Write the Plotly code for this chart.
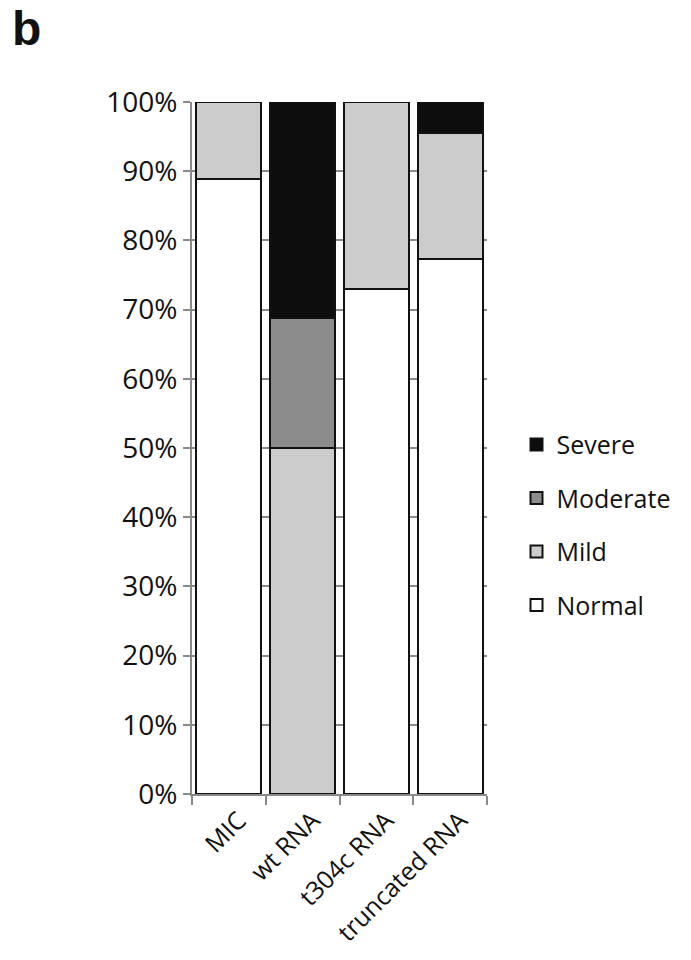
import plotly.graph_objects as go

# Share of embryos in each phenotype class per injection
categories = ["MIC", "wt RNA", "t304c RNA", "truncated RNA"]
normal = [0.889, 0.0, 0.73, 0.773]
mild = [0.111, 0.50, 0.27, 0.182]
moderate = [0.0, 0.1875, 0.0, 0.0]
severe = [0.0, 0.3125, 0.0, 0.045]

# stacked bottom to top; legend lists them top to bottom
series = [
    ("Normal", normal, "#ffffff"),
    ("Mild", mild, "#cccccc"),
    ("Moderate", moderate, "#8c8c8c"),
    ("Severe", severe, "#0d0d0d"),
]

font_family = "Open Sans, Liberation Sans, Arial, sans-serif"

fig = go.Figure()
for rank, (name, vals, color) in enumerate(series):
    fig.add_trace(go.Bar(
        x=categories, y=vals, name=name, legendgroup=name,
        legendrank=len(series) - rank,
        marker=dict(color=color, line=dict(color="#111111", width=2)),
    ))

fig.update_layout(
    width=691, height=960,
    margin=dict(l=192, r=204, t=102, b=164),
    barmode="stack", bargap=0.12,
    plot_bgcolor="white", paper_bgcolor="white",
    font=dict(family=font_family, size=18, color="#111111"),
    showlegend=True,
    legend=dict(
        traceorder="grouped", x=1.1, xanchor="left", y=0.538,
        yanchor="top", font=dict(size=25), tracegroupgap=18,
        itemsizing="constant",
    ),
)
fig.add_annotation(
    text="<b>b</b>", xref="paper", yref="paper",
    x=-182 / 295, y=1 + 102 / 694, xanchor="left", yanchor="top",
    showarrow=False, font=dict(size=48, family="Liberation Sans, Arial, sans-serif"),
)

fig.update_yaxes(
    range=[0, 1], dtick=0.1, tickformat=".0%",
    showgrid=True, gridcolor="#8a8a8a", gridwidth=1.5,
    showline=True, linecolor="#8a8a8a", linewidth=2,
    ticks="outside", ticklen=7, tickcolor="#8a8a8a", tickwidth=2,
    tickfont=dict(size=28), zeroline=False,
)
fig.update_xaxes(
    showline=True, linecolor="#8a8a8a", linewidth=2,
    ticks="outside", tickson="boundaries", ticklen=9,
    tickcolor="#8a8a8a", tickwidth=2, tickangle=-45,
    tickfont=dict(size=25), ticklabelshift=10,
)

fig.write_html("out.html")
